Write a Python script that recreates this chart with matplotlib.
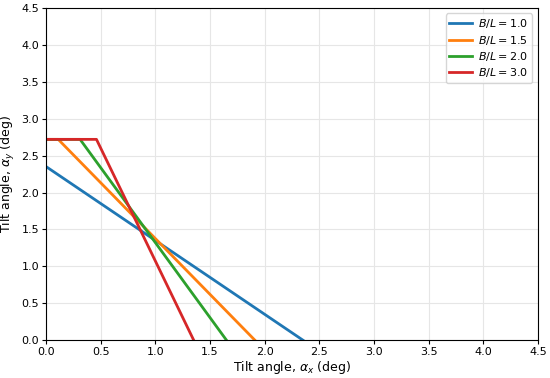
import matplotlib.pyplot as plt
import numpy as np

# Tilt-angle envelopes (alpha_x, alpha_y) in deg
labels = ['$B/L = 1.0$', '$B/L = 1.5$', '$B/L = 2.0$', '$B/L = 3.0$']
colors = ['#1f77b4', '#ff7f0e', '#2ca02c', '#d62728']
ax_pts = [
    [0.0, 2.35],
    [0.0, 0.11, 1.91],
    [0.0, 0.31, 1.65],
    [0.0, 0.46, 1.35],
]
ay_pts = [
    [2.35, 0.0],
    [2.72, 2.72, 0.0],
    [2.72, 2.72, 0.0],
    [2.72, 2.72, 0.0],
]

fig = plt.figure(figsize=(5.5, 3.78), dpi=100)
ax = fig.add_axes([0.084, 0.100, 0.894, 0.879])

for x, y, c, lab in zip(ax_pts, ay_pts, colors, labels):
    ax.plot(x, y, color=c, lw=2, label=lab)

# Formatting
ax.set_xlim(0, 4.5)
ax.set_ylim(0, 4.5)
ax.set_xticks(np.arange(0, 4.51, 0.5))
ax.set_yticks(np.arange(0, 4.51, 0.5))
ax.grid(True, color='#e6e6e6', lw=0.8)
ax.set_axisbelow(True)
ax.tick_params(labelsize=8, pad=2, length=3)
ax.set_xlabel(r'Tilt angle, $\alpha_x$ (deg)', fontsize=9, labelpad=1)
ax.set_ylabel(r'Tilt angle, $\alpha_y$ (deg)', fontsize=9, labelpad=3)
ax.legend(loc='upper right', fontsize=8, labelspacing=0.3,
          borderpad=0.35, handletextpad=0.6)

plt.savefig('out.png', dpi=100)
